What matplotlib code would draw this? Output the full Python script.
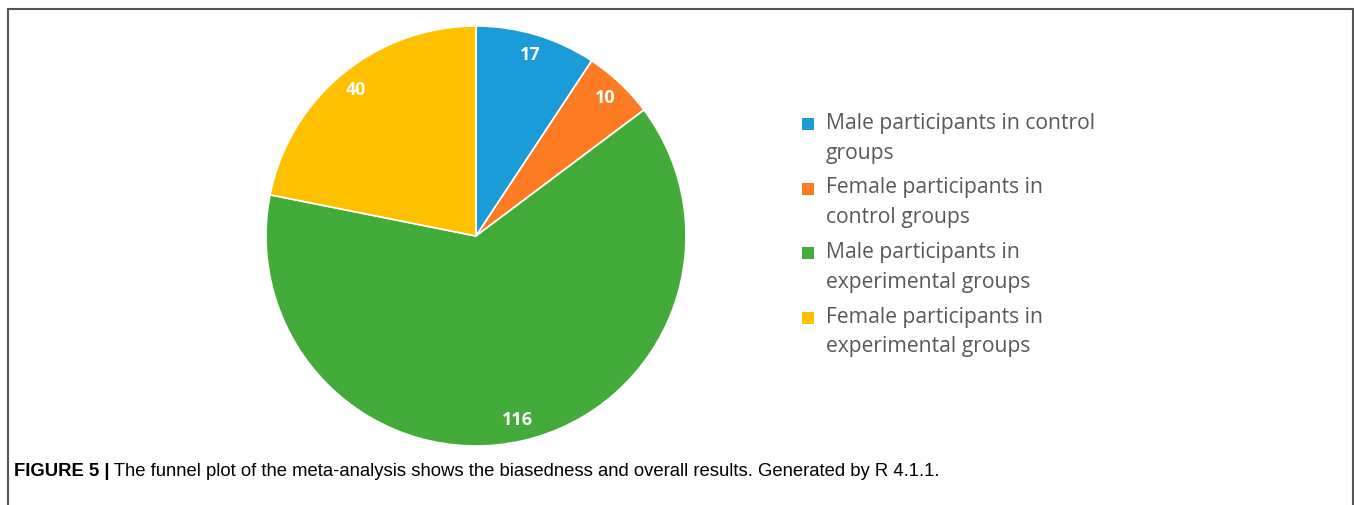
import matplotlib
matplotlib.use('Agg')
import matplotlib.pyplot as plt
from matplotlib.patches import Rectangle

groups = ['Male participants in control\ngroups',
          'Female participants in\ncontrol groups',
          'Male participants in\nexperimental groups',
          'Female participants in\nexperimental groups']
counts = [17, 10, 116, 40]
colors = ['#1B9BD7', '#FD7B23', '#43AB3A', '#FFC000']
caption_bold = 'FIGURE 5 |'
caption_text = ' The funnel plot of the meta-analysis shows the biasedness and overall results. Generated by R 4.1.1.'

W, H = 1354, 505
fig = plt.figure(figsize=(W / 100, H / 100), dpi=100)

# frame around the chart
fig.patches.append(Rectangle((8 / W, -0.1), (1353 - 8) / W, 1.1 - 9 / H,
                             transform=fig.transFigure, fill=False,
                             edgecolor='#555555', linewidth=1.5))

cx, cy, r = 476, 236, 210
ax = fig.add_axes([(cx - r) / W, (H - cy - r) / H, 2 * r / W, 2 * r / H])
wedges, texts, autotexts = ax.pie(
    counts, colors=colors, startangle=90, counterclock=False,
    autopct=lambda p: '{:.0f}'.format(p * sum(counts) / 100),
    pctdistance=0.9, wedgeprops=dict(edgecolor='white', linewidth=1.2),
    textprops=dict(color='white', fontsize=13, fontweight='bold', family='Open Sans'))
ax.set_xlim(-1, 1)
ax.set_ylim(-1, 1)
ax.set_aspect('equal')

# legend
lx, ly0, step = 808, 124, 64.5
for i, (lab, col) in enumerate(zip(groups, colors)):
    y = ly0 + i * step
    fig.patches.append(Rectangle(((lx - 6) / W, (H - y - 6) / H), 12 / W, 12 / H,
                                 transform=fig.transFigure, facecolor=col, edgecolor='none'))
    fig.text((lx + 18) / W, (H - y + 11) / H, lab, fontsize=15.2, color='#595959',
             family='Open Sans', va='top', ha='left', linespacing=1.55)

t = fig.text(14 / W, (H - 471) / H, caption_bold, fontsize=13.3, fontweight='bold',
             family='Liberation Sans', va='center', ha='left')
fig.canvas.draw()
bb = t.get_window_extent()
fig.text(bb.x1 / W, (H - 471) / H, caption_text, fontsize=13.3,
         family='Liberation Sans', va='center', ha='left')

fig.savefig('out.png', dpi=100)
